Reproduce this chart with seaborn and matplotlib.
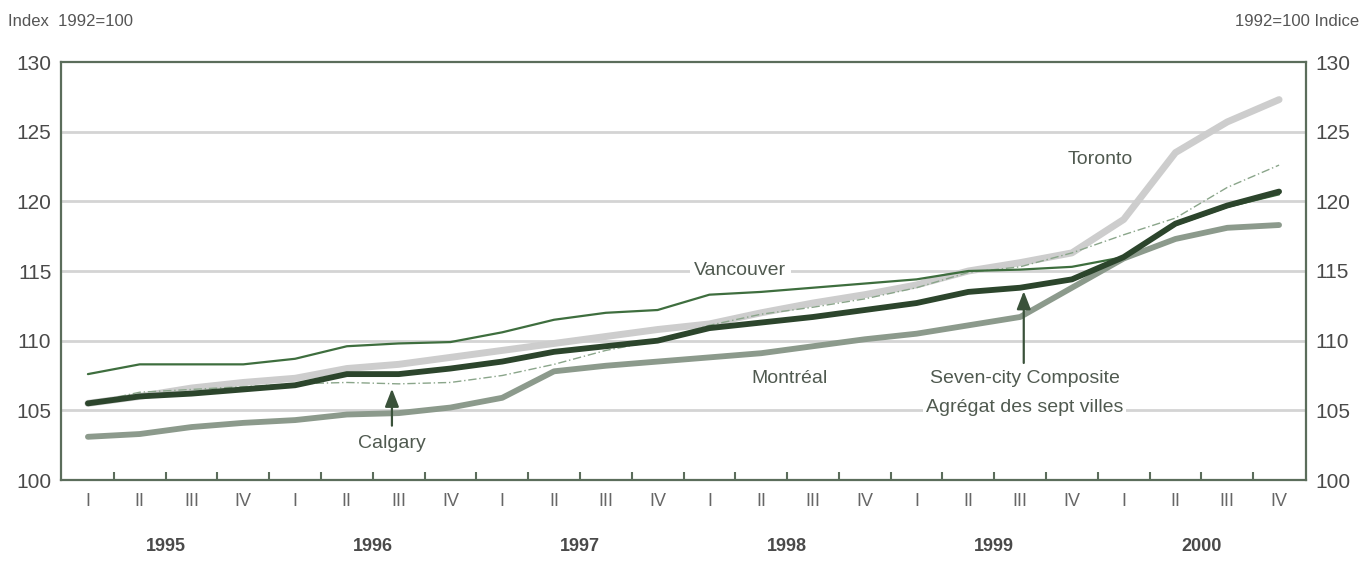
import matplotlib
matplotlib.use("Agg")
import matplotlib.pyplot as plt
import seaborn as sns
import numpy as np
import pandas as pd

years = ["1995", "1996", "1997", "1998", "1999", "2000"]
quarters = ["I", "II", "III", "IV"]

toronto = [105.5, 106.0, 106.6, 107.0, 107.3, 108.0, 108.3, 108.8, 109.3, 109.8, 110.3, 110.8,
           111.2, 112.0, 112.7, 113.3, 114.0, 115.0, 115.6, 116.3, 118.7, 123.5, 125.7, 127.3]
calgary = [105.5, 106.3, 106.5, 106.7, 106.9, 107.0, 106.9, 107.0, 107.5, 108.3, 109.3, 110.0,
           111.1, 111.9, 112.4, 113.0, 113.8, 114.9, 115.3, 116.3, 117.6, 118.8, 121.0, 122.6]
vancouver = [107.6, 108.3, 108.3, 108.3, 108.7, 109.6, 109.8, 109.9, 110.6, 111.5, 112.0, 112.2,
             113.3, 113.5, 113.8, 114.1, 114.4, 115.0, 115.1, 115.3, 116.0, 118.3, 119.6, 120.5]
montreal = [103.1, 103.3, 103.8, 104.1, 104.3, 104.7, 104.8, 105.2, 105.9, 107.8, 108.2, 108.5,
            108.8, 109.1, 109.6, 110.1, 110.5, 111.1, 111.7, 113.8, 115.9, 117.3, 118.1, 118.3]
composite = [105.5, 106.0, 106.2, 106.5, 106.8, 107.6, 107.6, 108.0, 108.5, 109.2, 109.6, 110.0,
             110.9, 111.3, 111.7, 112.2, 112.7, 113.5, 113.8, 114.4, 116.0, 118.4, 119.7, 120.7]

y_ticks = [100, 105, 110, 115, 120, 125, 130]

n = len(composite)
idx = np.arange(n)
df = pd.DataFrame({"q": idx, "Toronto": toronto, "Calgary": calgary, "Vancouver": vancouver,
                   "Montréal": montreal, "Composite": composite})

sns.set_theme(style="white")
plt.rcParams["font.family"] = ["Liberation Sans", "DejaVu Sans"]

fig = plt.figure(figsize=(13.61, 5.62), dpi=100)
ax = fig.add_axes([61/1361, 1-480/562, (1306-61)/1361, (480-62)/562])

frame = "#5b6d5b"
txt = "#4a4a4a"

for yv in y_ticks[1:-1]:
    ax.axhline(yv, color="#d4d4d4", lw=2, zorder=0)

rj = dict(solid_joinstyle="round", solid_capstyle="round")
sns.lineplot(data=df, x="q", y="Toronto", ax=ax, color="#cdcdcd", lw=5, zorder=2, **rj)
sns.lineplot(data=df, x="q", y="Montréal", ax=ax, color="#8c9a8c", lw=4.2, zorder=3, **rj)
sns.lineplot(data=df, x="q", y="Calgary", ax=ax, color="#8aa58a", lw=1.0, ls=(0, (6, 2, 1, 2)), zorder=4)
sns.lineplot(data=df, x="q", y="Vancouver", ax=ax, color="#3e6e3e", lw=1.6, zorder=4, **rj)
sns.lineplot(data=df, x="q", y="Composite", ax=ax, color="#2c452c", lw=4.2, zorder=5, **rj)

ax.set_xlim(-0.52, n - 0.48)
ax.set_ylim(100, 130)
ax.set_xlabel("")
ax.set_ylabel("")
for s in ax.spines.values():
    s.set_color(frame)
    s.set_linewidth(1.6)

ax.set_yticks(y_ticks)
ax.set_yticklabels([str(v) for v in y_ticks], fontsize=15, color=txt)
ax.tick_params(axis="y", length=0, pad=7)

ax.set_xticks(np.arange(0.5, n - 1, 1.0), minor=True)
ax.tick_params(axis="x", which="minor", direction="in", length=6, width=1.5, color=frame, bottom=True)
ax.set_xticks(idx)
ax.set_xticklabels([quarters[i % 4] for i in idx], fontsize=13, color="#666666")
ax.tick_params(axis="x", which="major", length=0, pad=9)

for k, yr in enumerate(years):
    ax.text(4 * k + 1.5, -0.16, yr, transform=ax.get_xaxis_transform(), ha="center", va="center",
            fontsize=13, fontweight="bold", color=txt)

ax2 = ax.twinx()
ax2.set_ylim(100, 130)
ax2.set_yticks(y_ticks)
ax2.set_yticklabels([str(v) for v in y_ticks], fontsize=15, color=txt)
ax2.tick_params(axis="y", length=0, pad=7)
for s in ax2.spines.values():
    s.set_visible(False)
ax2.grid(False)

fig.text(8/1361, 1-22/562, "Index  1992=100", fontsize=12, color="#555555", ha="left", va="center")
fig.text(1359/1361, 1-22/562, "1992=100 Indice", fontsize=12, color="#555555", ha="right", va="center")

lab = dict(fontsize=14, color="#505a50", ha="center", va="center", zorder=6)
ax.text(19.54, 122.97, "Toronto", **lab)
ax.text(12.6, 115.05, "Vancouver", bbox=dict(facecolor="white", edgecolor="none", pad=3), **lab)
ax.text(13.55, 107.3, "Montréal", **lab)
ax.text(5.87, 102.65, "Calgary", **lab)
ax.text(18.09, 107.3, "Seven-city Composite", **lab)
ax.text(18.09, 105.2, "Agrégat des sept villes", bbox=dict(facecolor="white", edgecolor="none", pad=2), **lab)

arr = dict(arrowstyle="-|>,head_width=0.35,head_length=0.9", color="#3a523a", lw=1.6)
ax.annotate("", xy=(5.87, 106.75), xytext=(5.87, 103.7), arrowprops=arr, zorder=6)
ax.annotate("", xy=(18.07, 113.75), xytext=(18.07, 108.2), arrowprops=arr, zorder=6)

fig.savefig("out.png", dpi=100, facecolor="white")
